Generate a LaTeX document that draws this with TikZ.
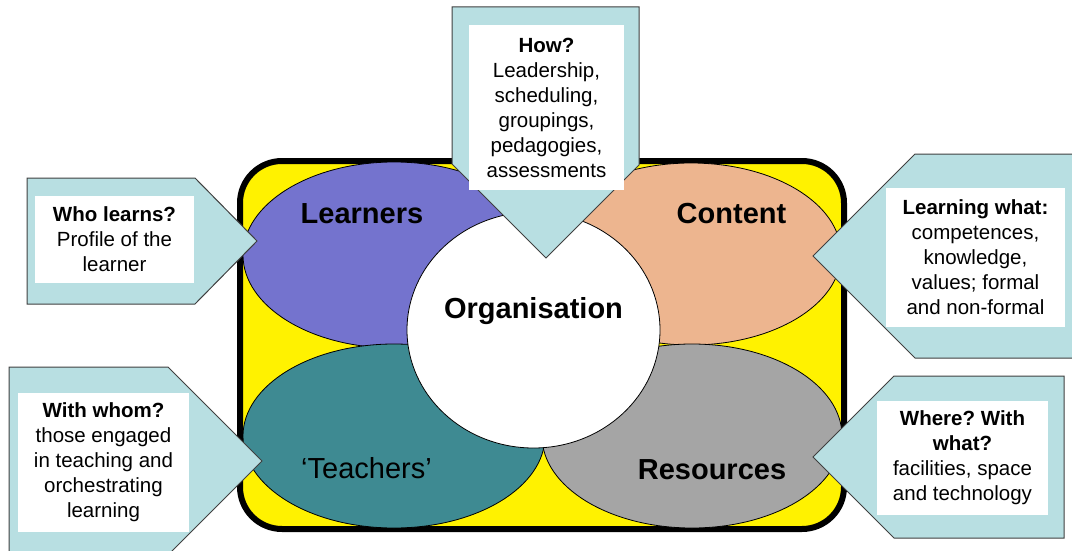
\documentclass[tikz,border=0pt]{standalone}
\usepackage{fontspec}
\setmainfont{Liberation Sans}
\usetikzlibrary{shapes.geometric}
\frenchspacing
\definecolor{cLearn}{RGB}{116,115,206}
\definecolor{cContent}{RGB}{237,181,143}
\definecolor{cTeach}{RGB}{62,138,146}
\definecolor{cRes}{RGB}{165,165,165}
\definecolor{cCall}{RGB}{184,223,226}
\definecolor{cEdge}{RGB}{64,64,64}
\tikzset{
  blob/.style={ellipse, draw=black, line width=0.8pt, inner sep=0pt},
  bigbold/.style={anchor=base, font=\fontsize{29}{34}\selectfont\bfseries},
  bigreg/.style={anchor=base, font=\fontsize{29}{34}\selectfont},
  callout/.style={draw=cEdge, line width=1pt, fill=cCall, line join=miter},
  textbox/.style={fill=white, inner sep=0pt, align=center, font=\fontsize{20.5}{25}\selectfont},
}
\begin{document}
\begin{tikzpicture}[x=1pt,y=-1pt]
\useasboundingbox (0,0) rectangle (1072,551);
% yellow frame
\draw[line width=6pt, fill=yellow, rounded corners=42pt] (240,161) rectangle (844,529);
% ellipses
\node[blob, fill=cLearn, minimum width=302pt, minimum height=186pt] (learners) at (394,255) {};
\node[blob, fill=cContent, minimum width=300pt, minimum height=182pt] (content) at (691,254) {};
\node[blob, fill=cTeach, minimum width=302pt, minimum height=184pt] (teachers) at (394,436) {};
\node[blob, fill=cRes, minimum width=300pt, minimum height=184pt] (resources) at (692,436) {};
\node[blob, fill=white, minimum width=253pt, minimum height=236pt] (organisation) at (533.5,330) {};
% labels
\node[bigbold] (tLearn) at (362,223) {Learners};
\node[bigbold] (tContent) at (731.5,223) {Content};
\node[bigbold] (tOrg) at (533.5,318) {Organisation};
\node[bigreg] (tTeach) at (366.5,478) {‘Teachers’};
\node[bigbold] (tRes) at (712,479) {Resources};
% callouts
\draw[callout] (452,7) -- (639,7) -- (639,165) -- (546,258) -- (452,164) -- cycle;
\node[textbox, minimum width=155pt, minimum height=165pt] (how) at (546.5,107.5)
  {\textbf{How?}\\Leadership,\\scheduling,\\groupings,\\pedagogies,\\assessments};
\draw[callout] (27,178) -- (195,178) -- (257,241) -- (195,304) -- (27,304) -- cycle;
\node[textbox, minimum width=159pt, minimum height=87pt] (who) at (114.5,239.5)
  {\textbf{Who learns?}\\Profile of the\\learner};
\draw[callout] (9,367) -- (168,367) -- (262,461) -- (168,555) -- (9,555) -- cycle;
\node[textbox, minimum width=171pt, minimum height=139pt] (whom) at (103.5,462.5)
  {\textbf{With whom?}\\those engaged\\in teaching and\\orchestrating\\learning};
\draw[callout] (813,256) -- (915,154) -- (1080,154) -- (1080,358) -- (915,358) -- cycle;
\node[textbox, minimum width=179pt, minimum height=139pt] (what) at (975.5,257.5)
  {\textbf{Learning what:}\\competences,\\knowledge,\\values; formal\\and non-formal};
\draw[callout] (813,457) -- (894,376) -- (1064,376) -- (1064,538) -- (894,538) -- cycle;
\node[textbox, minimum width=171pt, minimum height=114pt] (where) at (962.5,458)
  {\textbf{Where? With}\\\textbf{what?}\\facilities, space\\and technology};
\end{tikzpicture}
\end{document}
